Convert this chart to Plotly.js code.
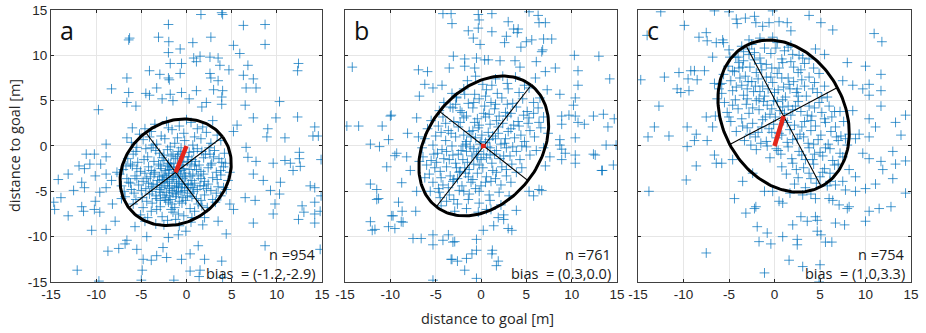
<!DOCTYPE html>
<html>
<head>
<meta charset="utf-8">
<script src="https://cdn.plot.ly/plotly-3.0.1.min.js"></script>
<style>html,body{margin:0;padding:0;background:#fff;}#chart{width:926px;height:333px;}</style>
</head>
<body>
<div id="chart"></div>
<script>
// ---- data (approximate) ----
const panelLabels = ['a', 'b', 'c'];
const countsN = [954, 761, 754];
const biasA = [-1.2, -2.9];
const biasB = [0.3, 0.0];
const biasC = [1.0, 3.3];
const tickVals = [-15, -10, -5, 0, 5, 10, 15];
const tickText = ['-15', '-10', '-5', '0', '5', '10', '15'];
// ellipse: semi-major, semi-minor, angle of major axis (deg)
const ellA = [6.5, 5.5, 37];
const ellB = [8.5, 6.2, 52];
const ellC = [8.8, 6.7, 118];

const ptsA = [
[1.6,14.5],[3.9,14.7],[4.0,14.5],[-2.0,13.4],[6.3,13.3],[8.7,13.4],[8.7,11.2],[-6.3,11.9],[-6.4,11.7],[-3.1,12.0],
[-1.96,11.5],[0.7,11.4],[2.7,12.0],[5.2,11.1],[-2.0,10.3],[-0.7,10.7],[1.5,9.9],[0.8,9.7],[5.9,10.2],[2.6,9.8],
[3.5,9.7],[-1.8,9.1],[-0.55,9.1],[1.1,9.3],[6.8,8.9],[12.4,9.1],[12.3,8.3],[3.7,8.9],[4.7,8.4],[-4.1,8.3],
[-2.95,7.9],[-2.0,7.5],[-1.9,7.3],[-0.7,8.0],[2.6,8.0],[2.7,7.5],[3.5,7.2],[6.3,7.8],[7.4,7.4],[-6.6,7.5],
[-8.3,6.3],[-6.4,5.9],[-3.3,6.4],[-4.5,5.8],[-4.1,5.6],[-1.8,5.7],[-0.55,5.9],[1.1,6.1],[3.0,6.2],[4.0,6.1],
[6.6,6.4],[7.7,6.4],[3.9,5.4],[-2.7,5.2],[-1.5,5.0],[0.3,5.2],[2.2,4.8],[-6.6,4.8],[-5.6,4.4],[-9.75,4.0],
[1.7,4.3],[3.9,4.6],[6.5,4.5],[10.3,4.9],[7.4,3.1],[12.3,3.2],[9.9,3.1],[5.6,2.3],[9.0,1.9],[14.2,2.1],
[14.0,1.1],[14.6,1.1],[8.9,1.0],[10.9,0.9],[5.2,1.6],[6.6,-0.15],[12.5,-0.7],[6.8,-1.25],[7.7,-1.7],[9.6,-1.9],
[10.9,-1.6],[11.5,-1.9],[12.5,-1.4],[12.6,-2.25],[11.8,-2.7],[14.9,-1.5],[3.9,-1.8],[2.6,-0.9],[7.4,-3.1],[8.5,-3.8],
[10.4,-4.0],[13.7,-4.4],[14.2,-4.6],[14.9,-5.5],[9.3,-4.9],[10.3,-5.3],[7.6,-6.0],[6.5,-5.7],[4.8,-6.4],[5.2,-7.0],
[3.5,-8.3],[4.4,-9.7],[7.4,-8.5],[9.6,-7.5],[9.8,-6.4],[12.8,-6.6],[14.2,-6.2],[14.2,-7.5],[14.8,-7.2],[13.0,-7.3],
[12.4,-8.1],[14.2,-8.5],[8.7,-11.0],[14.8,-11.4],[1.3,-11.0],[0.4,-11.9],[-0.55,-12.5],[2.0,-12.5],[3.9,-12.7],[0.4,-13.8],
[1.5,-13.7],[1.4,-14.4],[-1.4,-14.8],[4.0,-14.5],[-2.6,-11.2],[-2.2,-12.3],[-3.3,-12.1],[-3.9,-12.6],[-4.8,-12.5],[-4.9,-13.7],
[-5.0,-14.8],[-9.7,-14.9],[-12.1,-13.7],[-8.7,-11.6],[-7.5,-11.3],[-6.8,-10.8],[-6.6,-10.4],[-5.5,-11.4],[-4.4,-10.0],[-2.0,-10.1],
[-0.9,-9.8],[-0.07,-9.4],[-10.5,-9.3],[-8.9,-9.2],[-7.9,-8.3],[-9.6,-7.3],[-10.2,-7.0],[-11.4,-7.2],[-11.6,-6.7],[-13.1,-7.7],
[-14.7,-6.2],[-14.6,-7.0],[-13.9,-5.7],[-12.5,-4.9],[-13.1,-3.1],[-14.2,-3.7],[-11.3,-4.6],[-11.6,-4.0],[-11.1,-0.9],[-10.2,-0.9],
[-8.9,-1.2],[-9.5,-2.0],[-10.7,-2.0],[-11.3,-2.5],[-11.9,-2.2],[-10.1,-3.3],[-8.9,-3.1],[-8.3,-3.8],[-9.6,-5.1],[-8.9,-4.6],
[-8.2,-6.4],[-10.1,-6.1],[-6.4,-4.0],[-7.2,-5.8],[-6.6,0.9],[-6.0,2.0],[-5.5,-0.15],[-7.7,-2.9],[-8.9,0.2],
[-3.5,2.4],[-2.2,2.7],[-0.8,2.2],[0.5,2.6],[1.8,2.1],[-4.6,1.9],[2.9,2.8],
[-5.2,1.3],[-3.9,1.6],[-2.8,1.1],[-1.6,1.8],[-0.3,1.4],[0.9,1.0],[2.2,1.5],[3.4,1.2],[-1.0,0.9],
[-6.1,0.4],[-4.8,0.7],[-3.3,0.2],[-2.4,0.8],[-1.3,0.3],[-0.2,0.6],[0.7,0.1],[1.6,0.8],[2.7,0.3],[3.8,0.6],[-3.9,-0.2],
[-5.6,-0.6],[-4.5,-0.3],[-3.0,-0.8],[-2.1,-0.4],[-1.5,-0.9],[-0.6,-0.2],[0.3,-0.7],[1.2,-0.3],[2.1,-0.9],[3.1,-0.5],[4.2,-0.8],[-0.9,-0.6],
[-6.5,-1.4],[-5.4,-1.8],[-4.3,-1.2],[-3.6,-1.7],[-2.7,-1.3],[-2.0,-1.9],[-1.2,-1.4],[-0.5,-1.8],[0.2,-1.2],[1.0,-1.7],[1.9,-1.3],[2.8,-1.9],[3.6,-1.4],[-1.7,-1.1],[0.6,-1.5],
[-7.0,-2.6],[-6.0,-2.2],[-5.1,-2.8],[-4.2,-2.3],[-3.5,-2.9],[-2.9,-2.2],[-2.3,-2.7],[-1.7,-2.3],[-1.0,-2.8],[-0.4,-2.1],[0.3,-2.6],[0.9,-2.2],[1.6,-2.8],[2.4,-2.4],[3.3,-2.9],[4.1,-2.3],[-2.0,-3.0],[-0.7,-3.2],
[-6.6,-3.6],[-5.7,-3.3],[-4.8,-3.9],[-4.0,-3.4],[-3.2,-3.8],[-2.6,-3.3],[-1.9,-3.9],[-1.4,-3.5],[-0.8,-3.9],[-0.1,-3.4],[0.6,-3.8],[1.3,-3.3],[2.0,-3.9],[2.9,-3.5],[3.8,-3.2],[4.6,-3.8],[-3.6,-3.1],[-1.1,-4.1],
[-7.2,-4.4],[-6.1,-4.8],[-5.3,-4.3],[-4.5,-4.7],[-3.7,-4.2],[-3.0,-4.8],[-2.4,-4.4],[-1.6,-4.9],[-0.9,-4.5],[-0.2,-4.9],[0.5,-4.3],[1.2,-4.8],[1.9,-4.4],[2.7,-4.9],[3.5,-4.5],[-2.1,-4.1],[0.1,-4.6],
[-6.8,-5.6],[-5.8,-5.2],[-4.9,-5.7],[-4.1,-5.3],[-3.3,-5.8],[-2.6,-5.4],[-1.8,-5.9],[-1.1,-5.3],[-0.4,-5.7],[0.4,-5.2],[1.1,-5.8],[2.0,-5.4],[2.9,-5.9],[3.8,-5.5],[-2.9,-5.1],
[-5.9,-6.4],[-4.8,-6.8],[-3.8,-6.3],[-2.9,-6.7],[-2.0,-6.2],[-1.3,-6.8],[-0.5,-6.3],[0.4,-6.9],[1.3,-6.4],[2.3,-6.8],[3.2,-6.2],
[-5.1,-7.6],[-3.9,-7.2],[-2.7,-7.8],[-1.5,-7.3],[-0.3,-7.7],[0.9,-7.2],[2.0,-7.9],[-4.6,-8.3],
[-3.4,-8.6],[-2.1,-8.2],[-0.8,-8.8],[0.5,-8.4],[1.8,-8.7],[-5.7,-8.9],
[-2.5,-1.6],[-1.8,-2.0],[-0.9,-2.4],[-0.2,-3.0],[0.7,-3.1],[-1.5,-3.3],[-2.7,-3.7],[-0.5,-4.2],[0.9,-4.1],[-1.3,-4.6],
[-2.2,-5.1],[-0.6,-5.1],[0.8,-5.0],[-3.3,-4.3],[-1.9,-2.6],[-0.3,-2.5],[1.1,-2.6],[-2.8,-2.5],[-3.9,-2.7],[-4.4,-3.6],
[-1.2,-5.6],[-2.3,-6.0],[-0.1,-6.0],[1.6,-3.6],[2.2,-4.7],
[-4.1,1.0],[-2.0,2.0],[0.0,2.9],[1.2,1.9],[-5.9,-0.9],[-3.4,-0.5],[-1.8,-0.1],[0.8,-0.6],[2.5,-0.2],[-6.2,-2.0],
[-4.7,-1.5],[-3.1,-2.0],[-1.4,-1.9],[0.1,-1.7],[1.4,-2.1],[3.0,-1.2],[-5.5,-2.5],[-4.6,-3.0],[-3.0,-3.4],[-2.2,-3.5],
[-1.2,-3.0],[-0.4,-3.6],[0.4,-3.3],[1.9,-3.1],[3.4,-3.7],[-6.2,-4.1],[-4.2,-4.1],[-2.8,-4.6],[-1.9,-4.4],[-0.5,-4.6],
[0.7,-4.6],[2.4,-4.2],[4.1,-4.6],[-5.6,-5.9],[-3.8,-5.0],[-2.4,-5.7],[-1.5,-5.2],[-0.8,-6.1],[0.1,-5.5],[1.6,-6.0],
[3.3,-5.2],[-4.4,-6.1],[-3.3,-7.0],[-1.7,-7.0],[-0.9,-7.5],[0.6,-7.9],[1.7,-6.6],[-4.3,-7.9],[-2.5,-8.7],[-1.2,-8.1],
[-6.7,-2.2],[-7.4,-3.1],[-6.9,-5.0],[4.3,-1.9],[4.8,-2.9],[4.4,-4.8],[-1.0,-1.2],[-2.5,-1.0],[-0.3,-1.2],[-3.7,0.1],
[-2.1,-2.2],[-1.4,-2.6],[-0.6,-2.7],[0.5,-2.0],[-2.4,-3.2],[-1.6,-3.7],[-0.9,-3.4],[0.2,-4.2],[-1.1,-4.4],[-2.6,-4.0],
[-3.9,-4.5],[-1.9,-4.7],[-0.2,-4.2],[1.5,-4.4],[-3.4,-5.5],[-1.9,-5.5],[-0.9,-5.0],[0.6,-5.6],[-2.9,-6.0],[-1.6,-6.4],
[-5.0,-4.9],[-5.5,-3.6],[2.7,-2.1],[3.8,-2.7],[-0.7,-0.9],[1.7,-0.6]
];

const ptsB = [
[-4.2,14.6],[-3.3,14.6],[-3.2,13.5],[-0.3,14.5],[-0.2,13.9],[1.2,14.6],[3.0,13.7],[5.3,14.8],[6.3,14.4],[6.4,13.6],
[7.1,13.6],[4.1,12.9],[4.0,12.5],[3.6,12.9],[-1.4,12.7],[-0.3,13.0],[1.2,12.6],[2.8,12.1],[5.0,11.5],[4.4,10.9],
[5.6,11.7],[6.9,11.8],[7.8,11.8],[6.8,10.6],[6.7,10.4],[-0.85,11.9],[-0.1,11.2],[2.6,11.4],[-3.05,9.9],[-1.8,9.6],
[-0.5,9.7],[0.4,9.5],[0.8,9.5],[2.1,9.4],[3.75,9.4],[6.1,9.3],[10.3,10.0],[13.0,9.9],[-14.2,8.7],[-6.9,8.4],
[-5.9,8.2],[-3.5,8.6],[-1.8,8.8],[-0.7,8.6],[4.3,8.7],[7.1,8.2],[8.2,8.6],[10.7,8.3],[14.2,7.4],[6.0,7.5],
[7.3,6.2],[8.7,5.7],[10.7,6.7],[10.4,5.3],[-6.2,6.8],[-5.3,6.4],[-4.3,6.7],[-6.8,5.5],[-2.7,5.4],[-3.1,4.2],
[-2.3,3.9],[-9.9,3.4],[-10.9,2.2],[-13.5,2.2],[-14.8,2.2],[-7.1,3.1],[-8.1,1.4],[10.2,4.5],[10.4,3.3],[8.9,3.3],
[9.7,3.4],[12.4,3.3],[13.5,3.5],[11.4,2.4],[8.9,2.4],[10.7,2.6],[14.0,2.1],[14.7,3.0],[7.4,1.4],[8.7,0.7],
[10.4,0.9],[-10.0,3.3],[-12.2,0.2],[-11.2,-0.07],[-10.2,0.7],[-9.3,-0.8],[-8.2,-1.2],[-6.9,1.0],[-10.4,-2.3],[-12.2,-4.2],
[-11.5,-4.8],[-11.5,-5.9],[-8.75,-4.05],[-7.8,-2.7],[-7.1,-5.0],[-7.2,-7.2],[-8.7,-7.2],[-9.85,-7.7],[-8.8,-8.35],[-9.5,-9.1],
[-12.2,-8.35],[-11.7,-9.2],[-12.0,-9.3],[-7.5,-10.2],[-6.6,-10.2],[-5.3,-9.8],[-5.3,-10.9],[-3.6,-9.8],[-2.9,-10.55],[-3.3,-12.5],
[-2.6,-12.7],[-1.6,-12.4],[-0.5,-11.5],[-0.5,-10.3],[-0.5,-14.6],[1.9,-12.7],[1.25,-11.5],[0.25,-9.3],[3.4,-9.3],[2.5,-8.1],
[1.4,-8.8],[3.9,-7.1],[5.3,-5.0],[6.4,-4.8],[10.4,-1.9],[10.4,-1.0],[13.4,-2.7],[14.6,-2.1],[12.6,-1.0],[13.8,0.1],
[14.9,0.1],[8.7,0.1],[9.3,-0.8],[7.6,-1.2],[6.9,-0.2],[-9.5,-1.07],[-11.3,-5.8],[-9.1,-6.2],[-9.7,-7.7],[-8.6,-8.4],
[-10.2,-8.9],[-4.2,-10.4],[-3.1,-10.6],[-3.2,-12.5],[-1.8,-13.7],[-1.0,-11.9],[-5.3,-14.8],[1.2,-11.9],[1.7,-13.2],[3.0,-9.1],
[1.9,-7.9],[0.6,-7.0],[5.8,-5.5],[6.7,-4.9],[7.1,-2.2],[8.9,-1.5],[8.9,-0.35],[12.4,-0.9],[13.3,-2.7],
[-1.5,7.2],[0.2,6.8],[1.6,7.4],[2.9,6.9],[3.8,7.6],[-0.6,7.7],
[-3.2,5.8],[-1.9,6.3],[-0.7,5.7],[0.6,6.2],[1.8,5.8],[3.0,6.3],[4.2,5.9],[5.3,6.4],
[-4.1,4.8],[-2.7,5.3],[-1.4,4.7],[-0.2,5.2],[1.1,4.8],[2.3,5.3],[3.5,4.7],[4.6,5.2],[5.8,4.8],[0.4,4.4],
[-4.6,3.9],[-3.4,4.3],[-2.1,3.7],[-0.9,4.2],[0.3,3.6],[1.5,4.1],[2.7,3.7],[3.9,4.3],[5.1,3.8],[6.3,4.2],[-1.6,3.3],
[-5.5,2.8],[-4.2,3.2],[-3.0,2.7],[-1.9,3.1],[-0.7,2.6],[0.5,3.2],[1.7,2.8],[2.9,3.3],[4.1,2.7],[5.3,3.1],[6.4,2.6],[-0.2,2.3],
[-5.9,1.9],[-4.7,2.2],[-3.6,1.7],[-2.5,2.1],[-1.3,1.6],[-0.3,2.0],[0.8,1.5],[1.9,2.1],[3.0,1.6],[4.2,2.2],[5.4,1.7],[6.6,2.0],[-1.9,1.2],[1.3,1.1],
[-6.2,0.8],[-5.0,1.1],[-3.9,0.6],[-2.8,1.0],[-1.6,0.5],[-0.6,0.9],[0.5,0.4],[1.6,0.8],[2.6,0.3],[3.7,0.9],[4.8,0.5],[5.9,1.0],[-0.1,0.2],[1.0,-0.2],
[-6.5,-0.2],[-5.3,0.1],[-4.3,-0.4],[-3.2,0.0],[-2.2,-0.5],[-1.2,-0.1],[-0.3,-0.6],[0.7,-0.1],[1.7,-0.5],[2.8,-0.2],[3.9,-0.6],[5.0,-0.1],[6.1,-0.5],[-1.7,0.2],[2.2,0.2],
[-6.4,-1.2],[-5.2,-0.9],[-4.1,-1.4],[-3.1,-1.0],[-2.0,-1.5],[-1.0,-1.1],[0.0,-1.5],[1.0,-1.0],[2.1,-1.4],[3.2,-1.1],[4.3,-1.5],[5.4,-1.0],[-0.5,-0.9],
[-6.0,-2.1],[-4.9,-1.8],[-3.8,-2.3],[-2.8,-1.9],[-1.8,-2.4],[-0.8,-2.0],[0.2,-2.4],[1.2,-1.9],[2.3,-2.3],[3.4,-2.0],[4.5,-2.4],[-2.3,-2.8],
[-5.7,-3.1],[-4.5,-2.8],[-3.4,-3.3],[-2.4,-2.9],[-1.4,-3.4],[-0.4,-3.0],[0.6,-3.4],[1.7,-2.9],[2.8,-3.3],[3.9,-2.9],[-3.0,-3.7],
[-5.3,-4.0],[-4.2,-4.3],[-3.1,-3.9],[-2.1,-4.4],[-1.1,-4.0],[0.0,-4.4],[1.1,-3.9],[2.2,-4.3],[3.3,-4.0],[-4.7,-4.7],
[-4.6,-5.1],[-3.5,-5.4],[-2.4,-4.9],[-1.3,-5.3],[-0.2,-5.0],[0.9,-5.4],[2.0,-5.1],[3.1,-5.5],
[-3.8,-6.1],[-2.6,-6.4],[-1.4,-5.9],[-0.2,-6.3],[1.0,-6.0],[2.2,-6.5],[-4.4,-6.6],
[-2.9,-7.2],[-1.6,-6.9],[-0.3,-7.3],[1.1,-7.0],[2.5,-7.6],
[-2.5,-0.9],[-1.6,-0.6],[-0.8,-0.3],[0.0,0.5],[0.9,0.7],[1.9,1.4],[-1.1,1.0],[-2.0,0.0],[-3.5,-1.5],[-2.7,-2.4],
[-1.5,-1.8],[-0.4,-1.3],[0.6,-1.3],[1.5,-0.9],[2.7,0.8],[3.3,1.9],[2.4,2.5],[1.0,2.4],[-0.4,3.0],[0.9,3.5],
[2.0,3.3],[3.3,3.6],[1.6,4.6],[2.9,4.6],[-0.8,4.8],[0.5,5.5],[-4.4,-3.5],[-3.6,-4.6],[-2.6,-3.6],[-1.7,-3.0],
[-0.9,-3.7],[-1.9,-5.0],[-0.6,-4.7],[0.5,-4.0],[1.6,-3.6],[-3.0,-5.9],[-3.8,-0.6],[-4.8,-0.8],[-5.5,-1.6],[-3.3,1.4],
[-4.4,1.5],[4.4,1.2],[5.2,2.5],[4.7,3.4],[3.6,2.3],[4.5,0.0],[0.1,1.2],[-0.9,1.7],[-2.3,2.6],[-3.9,2.5],
[1.3,-2.7],[2.5,-1.1],[3.5,-0.1],[0.3,-0.9],[-1.3,-2.6],[-0.2,-2.1],[2.8,-2.6],[-5.1,-2.4],[-6.2,-3.5],[5.8,3.6],
[-2.8,4.6],[-1.8,5.7],[1.2,6.7],[2.4,7.7],[4.8,6.7],[6.5,5.3],[6.9,3.2],[-6.8,-1.7],[-5.6,-5.0],[-4.5,-5.7]
];

const ptsC = [
[-12.5,14.8],[-14.0,12.2],[-9.9,13.3],[-7.5,12.5],[-6.6,14.9],[-5.0,14.8],[-4.2,14.0],[-4.1,13.5],[-3.2,14.1],[-2.2,14.3],
[-2.05,13.6],[-1.3,13.2],[-0.6,13.6],[-0.2,14.9],[0.5,13.7],[1.4,13.6],[1.8,12.7],[3.8,14.4],[5.1,13.6],[6.4,12.8],
[10.95,12.4],[11.8,11.5],[-7.4,11.6],[-8.3,12.0],[-6.4,11.4],[-5.7,11.7],[-5.6,11.4],[-5.0,10.6],[-6.8,9.8],[-2.8,10.7],
[-4.25,9.8],[-2.2,10.3],[0.15,10.8],[1.1,10.5],[1.8,11.1],[2.7,10.0],[4.5,10.7],[5.5,10.1],[3.8,9.6],[8.0,9.2],
[10.0,8.8],[11.7,7.9],[-9.2,8.3],[-8.8,8.3],[-10.5,8.1],[-9.5,7.4],[-8.5,7.3],[-7.7,8.3],[-12.1,7.6],[-14.7,7.3],
[-6.6,6.9],[-10.7,6.3],[-10.3,5.9],[-9.4,6.1],[-12.7,4.4],[-6.1,6.3],[-4.6,8.3],[-3.5,8.7],[7.5,7.2],[8.6,6.7],
[9.7,6.3],[10.4,6.8],[11.7,6.1],[10.4,5.6],[11.7,4.4],[14.4,3.4],[13.3,2.6],[13.9,1.2],[8.6,3.9],[10.4,3.0],
[11.1,2.1],[9.3,1.3],[8.2,1.3],[8.9,0.8],[10.4,1.0],[-7.5,3.2],[-9.6,2.1],[-11.6,1.1],[-13.2,2.1],[-13.9,1.0],
[-8.6,1.3],[-8.8,0.6],[-6.8,2.1],[-7.4,0.6],
[-13.8,-5.0],[-9.7,-3.75],[-8.6,-2.2],[-9.6,-0.07],[-6.4,-1.9],[-5.8,-1.9],[-6.6,-1.0],[-4.4,-5.8],[-3.15,-7.4],[-2.2,-6.9],
[-1.9,-8.9],[-0.8,-9.6],[-1.7,-10.55],[-0.4,-10.8],[0.9,-10.0],[2.5,-10.3],[2.5,-10.9],[1.6,-12.6],[-1.1,-14.0],[-7.5,-11.8],
[4.9,-15.0],[5.0,-13.1],[3.1,-13.3],[5.6,-10.6],[6.3,-10.6],[4.7,-9.4],[5.1,-9.8],[2.0,-8.7],[2.9,-7.8],[3.6,-8.3],
[4.5,-7.8],[4.7,-8.2],[6.7,-8.5],[7.7,-8.7],[10.0,-8.3],[8.0,-6.9],[8.2,-6.7],[10.4,-7.2],[11.5,-6.9],[12.8,-6.7],
[7.1,-6.5],[6.0,-5.8],[6.4,-6.0],[4.5,-5.8],[4.0,-5.3],[3.1,-5.4],[1.7,-5.2],[0.9,-6.3],[0.5,-6.1],[-0.2,-5.0],
[-1.1,-5.0],[-2.05,-6.7],[8.9,-5.0],[10.0,-4.7],[11.1,-4.2],[13.0,-3.6],[14.4,-5.2],[11.9,-2.6],[13.3,-2.0],[14.4,-1.65],
[13.0,-0.6],[11.7,-1.7],[10.4,-1.4],[9.7,-0.8],[8.2,-2.6],[8.9,-3.4],[7.5,-3.9],[6.7,-4.3],[7.8,-4.85],[-3.5,-3.9],
[-2.4,-3.0],[-4.6,-1.5],
[-2.5,11.2],[-1.1,10.8],[0.3,11.4],[1.5,10.9],[-3.4,10.4],
[-4.0,9.8],[-2.8,10.1],[-1.6,9.7],[-0.4,10.2],[0.8,9.6],[2.0,10.1],[3.1,9.7],
[-5.1,8.8],[-3.9,9.2],[-2.7,8.7],[-1.5,9.1],[-0.3,8.6],[0.9,9.2],[2.1,8.7],[3.3,9.1],[4.3,8.6],
[-5.6,7.9],[-4.4,8.2],[-3.2,7.7],[-2.0,8.1],[-0.9,7.6],[0.3,8.0],[1.5,7.5],[2.6,8.1],[3.8,7.6],[4.9,8.0],[-1.4,8.4],
[-6.0,6.8],[-4.8,7.2],[-3.6,6.7],[-2.5,7.1],[-1.3,6.6],[-0.2,7.0],[1.0,6.5],[2.1,7.1],[3.3,6.6],[4.4,7.0],[5.5,6.6],[-3.0,6.3],[0.4,6.2],
[-5.8,5.8],[-4.6,6.1],[-3.4,5.6],[-2.3,6.0],[-1.1,5.5],[0.0,5.9],[1.2,5.4],[2.4,5.9],[3.5,5.5],[4.7,5.9],[5.8,5.4],[-1.7,5.2],[1.7,6.3],
[-5.5,4.8],[-4.3,5.1],[-3.1,4.6],[-2.0,5.0],[-0.8,4.5],[0.3,4.9],[1.5,4.4],[2.6,4.9],[3.8,4.4],[4.9,4.8],[6.0,4.4],[-0.3,4.1],[2.0,4.0],
[-5.2,3.7],[-4.0,4.1],[-2.8,3.6],[-1.7,4.0],[-0.5,3.5],[0.6,3.9],[1.8,3.4],[2.9,3.8],[4.1,3.3],[5.2,3.7],[6.3,3.2],[7.2,3.8],
[-4.8,2.7],[-3.6,3.0],[-2.4,2.5],[-1.3,2.9],[-0.1,2.4],[1.0,2.8],[2.2,2.3],[3.3,2.7],[4.5,2.2],[5.6,2.6],[6.7,2.1],[7.6,2.7],
[-4.2,1.6],[-3.0,2.0],[-1.8,1.5],[-0.6,1.9],[0.5,1.4],[1.7,1.8],[2.8,1.3],[4.0,1.7],[5.1,1.2],[6.2,1.6],[7.3,1.1],
[-3.3,0.6],[-2.1,1.0],[-0.9,0.5],[0.2,0.9],[1.4,0.4],[2.5,0.8],[3.7,0.3],[4.8,0.7],[5.9,0.2],[7.0,0.6],[8.0,0.1],
[-2.0,-0.4],[-0.8,0.0],[0.4,-0.5],[1.5,-0.1],[2.7,-0.6],[3.8,-0.2],[5.0,-0.7],[6.1,-0.3],[7.2,-0.8],
[-0.5,-1.3],[0.7,-0.9],[1.9,-1.4],[3.0,-1.0],[4.2,-1.5],[5.3,-1.1],[6.4,-1.6],[7.5,-1.2],
[0.8,-2.3],[2.0,-1.9],[3.2,-2.4],[4.3,-2.0],[5.5,-2.5],[6.6,-2.1],
[1.3,-3.1],[2.6,-3.5],[3.8,-3.0],[5.0,-3.4],[6.1,-3.0],
[2.2,-4.2],[3.4,-4.6],[4.6,-4.1],[5.8,-4.4],
[-3.8,7.5],[-2.1,6.6],[-0.7,6.3],[0.8,7.5],[2.5,6.3],[-4.2,6.5],[-3.0,5.2],[-1.2,4.9],[0.9,5.1],[2.3,4.4],
[-2.4,4.2],[-1.0,3.2],[0.1,3.2],[1.4,2.6],[3.0,2.1],[4.0,2.8],[-3.5,2.2],[-2.7,1.3],[-1.4,2.1],[0.8,1.2],
[2.0,0.7],[3.2,1.0],[4.3,0.2],[5.6,-0.2],[4.4,-0.9],[3.4,-1.5],[2.4,-2.6],[5.3,-2.9],[6.1,-3.9],[4.0,-3.6],
[-4.6,4.5],[-5.0,3.2],[-5.8,6.9],[-4.9,9.8],[-3.4,9.4],[-2.2,9.5],[-0.9,9.0],[0.5,8.6],[1.8,9.3],[2.9,8.4],
[-1.8,7.4],[-0.4,7.6],[1.6,6.8],[3.0,7.3],[4.2,6.3],[5.2,5.3],[4.4,4.2],[5.5,3.0],[6.6,3.8],[6.8,1.0],
[-6.3,5.2],[-6.5,3.3],[-2.8,11.7],[-1.6,11.9],[-0.2,12.0],[-3.6,11.0],[7.8,0.8],[7.0,-2.0],[-1.5,0.3],[-2.6,0.1],
[0.2,-0.3],[-0.3,1.5],[1.1,3.6],[-0.1,5.0],[-1.6,6.0],[-2.9,7.1],[-3.9,8.6],[0.9,4.3],[2.6,5.5],[3.6,3.4]
];

// ---- drawing ----
const BLUE = 'rgba(0,114,189,0.72)';
function ellipseTraces(ell, bias, xa, ya) {
  const a = ell[0], b = ell[1], th = ell[2] * Math.PI / 180;
  const c = Math.cos(th), s = Math.sin(th);
  const cx = bias[0], cy = bias[1];
  const ex = [], ey = [];
  for (let i = 0; i <= 180; i++) {
    const t = 2 * Math.PI * i / 180;
    const u = a * Math.cos(t), v = b * Math.sin(t);
    ex.push(cx + u * c - v * s); ey.push(cy + u * s + v * c);
  }
  const ax = [cx - a * c, cx + a * c, null, cx + b * s, cx - b * s];
  const ay = [cy - a * s, cy + a * s, null, cy - b * c, cy + b * c];
  return [
    {x: ax, y: ay, xaxis: xa, yaxis: ya, mode: 'lines', line: {color: '#000', width: 1.1}, hoverinfo: 'skip'},
    {x: ex, y: ey, xaxis: xa, yaxis: ya, mode: 'lines', line: {color: '#000', width: 3}, hoverinfo: 'skip'},
    {x: [0, bias[0]], y: [0, bias[1]], xaxis: xa, yaxis: ya, mode: 'lines', line: {color: '#e3261b', width: 4.5}, hoverinfo: 'skip'}
  ];
}
function scatter(pts, xa, ya) {
  return {x: pts.map(p => p[0]), y: pts.map(p => p[1]), xaxis: xa, yaxis: ya, mode: 'markers', type: 'scatter',
    marker: {symbol: 'cross-thin-open', size: 7, color: BLUE, line: {color: BLUE, width: 1}}, hoverinfo: 'skip'};
}
const traces = [
  scatter(ptsA, 'x', 'y'), ...ellipseTraces(ellA, biasA, 'x', 'y'),
  scatter(ptsB, 'x2', 'y2'), ...ellipseTraces(ellB, biasB, 'x2', 'y2'),
  scatter(ptsC, 'x3', 'y3'), ...ellipseTraces(ellC, biasC, 'x3', 'y3')
];
traces.push({x: [biasB[0]], y: [biasB[1]], xaxis: 'x2', yaxis: 'y2', mode: 'markers',
  marker: {symbol: 'square', size: 4, color: '#e3261b'}, hoverinfo: 'skip'});

const tickFont = {family: 'Liberation Sans, Arial, sans-serif', size: 13.5, color: '#262626'};
function xAx(dom, anchor) {
  return {domain: dom, anchor: anchor, range: [-15, 15], tickvals: tickVals, ticktext: tickText,
    ticks: 'inside', ticklen: 3, tickcolor: '#262626', showline: true, linecolor: '#404040', linewidth: 1,
    mirror: 'ticks', showgrid: true, gridcolor: '#e6e6e6', zeroline: false, tickfont: tickFont, fixedrange: true};
}
function yAx(anchor, labels) {
  return {domain: [0.1532, 0.97], anchor: anchor, range: [-15, 15], tickvals: tickVals, ticktext: tickText,
    showticklabels: labels, ticks: 'inside', ticklen: 3, tickcolor: '#262626', showline: true, linecolor: '#404040',
    linewidth: 1, mirror: 'ticks', showgrid: true, gridcolor: '#e6e6e6', zeroline: false, tickfont: tickFont, fixedrange: true};
}
const annFont = {family: 'Open Sans, sans-serif', size: 14.5, color: '#1a1a1a'};
const biases = [biasA, biasB, biasC];
const refs = [['x', 'y'], ['x2', 'y2'], ['x3', 'y3']];
const annotations = [];
refs.forEach((r, i) => {
  annotations.push({xref: r[0] + ' domain', yref: r[1] + ' domain', x: 0.025, y: 0.995, xanchor: 'left', yanchor: 'top',
    text: panelLabels[i], showarrow: false, font: {family: 'Open Sans, sans-serif', size: 25, color: '#111'}});
  annotations.push({xref: r[0] + ' domain', yref: r[1] + ' domain', x: 0.985, y: 0.1, xanchor: 'right', yanchor: 'middle',
    text: 'n =' + countsN[i], showarrow: false, font: annFont});
  annotations.push({xref: r[0] + ' domain', yref: r[1] + ' domain', x: 0.985, y: 0.033, xanchor: 'right', yanchor: 'middle',
    text: 'bias \u00a0= (' + biases[i][0].toFixed(1) + ',' + biases[i][1].toFixed(1) + ')', showarrow: false, font: annFont});
});
annotations.push({xref: 'paper', yref: 'paper', x: 487 / 926, y: 1 - 318 / 333, xanchor: 'center', yanchor: 'middle',
  text: 'distance to goal [m]', showarrow: false, font: {family: 'Open Sans, sans-serif', size: 14.5, color: '#262626'}});
annotations.push({xref: 'paper', yref: 'paper', x: 14 / 926, y: 1 - 146 / 333, xanchor: 'center', yanchor: 'middle',
  textangle: -90, text: 'distance to goal [m]', showarrow: false, font: {family: 'Open Sans, sans-serif', size: 14.5, color: '#262626'}});

const layout = {
  width: 926, height: 333, margin: {l: 0, r: 0, t: 0, b: 0},
  paper_bgcolor: '#fff', plot_bgcolor: '#fff', showlegend: false,
  xaxis: xAx([0.0551, 0.3477], 'y'), yaxis: yAx('x', true),
  xaxis2: xAx([0.3726, 0.6663], 'y2'), yaxis2: yAx('x2', false),
  xaxis3: xAx([0.689, 0.9838], 'y3'), yaxis3: yAx('x3', false),
  annotations: annotations
};
Plotly.newPlot('chart', traces, layout, {staticPlot: true, displayModeBar: false});
</script>
</body>
</html>
